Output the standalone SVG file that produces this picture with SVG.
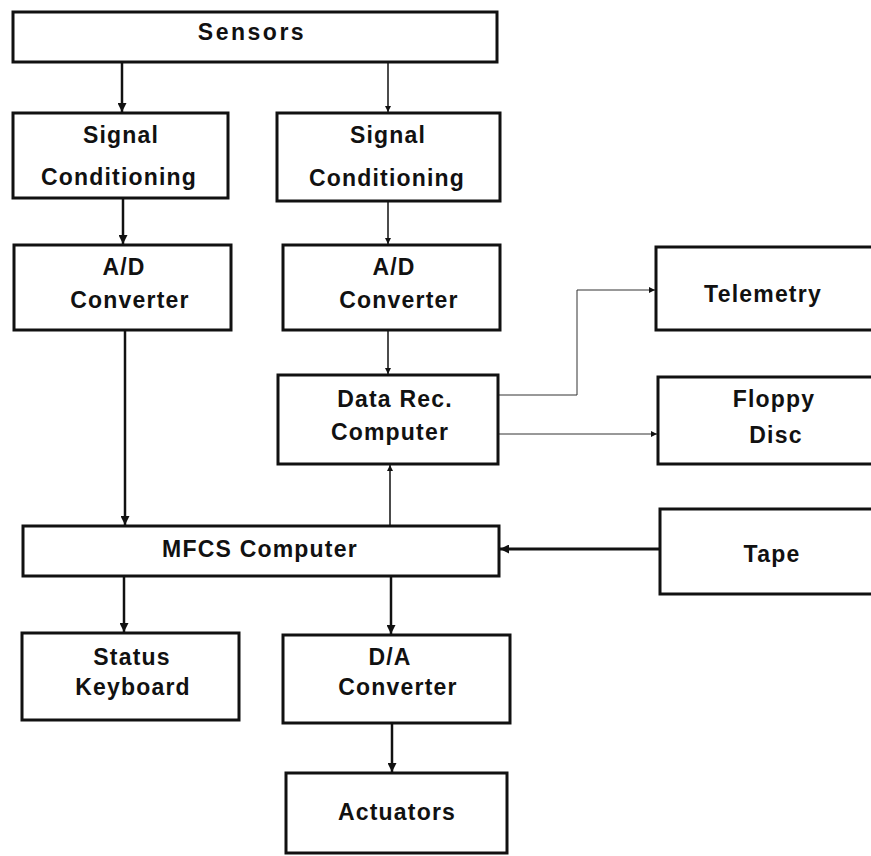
<svg xmlns="http://www.w3.org/2000/svg" width="871" height="856" viewBox="0 0 871 856">
<defs>
<marker id="ah" viewBox="0 0 10 10" refX="10" refY="5" markerWidth="9" markerHeight="9" markerUnits="userSpaceOnUse" orient="auto"><path d="M0,0 L10,5 L0,10 z" fill="#111"/></marker>
<marker id="ahs" viewBox="0 0 10 10" refX="10" refY="5" markerWidth="6" markerHeight="6" markerUnits="userSpaceOnUse" orient="auto"><path d="M0,0 L10,5 L0,10 z" fill="#111"/></marker>
<style>
.box{fill:#fff;stroke:#111;stroke-width:3}
.t{font-family:"Liberation Sans",Arial,sans-serif;font-weight:bold;font-size:23px;letter-spacing:1.2px;fill:#111;text-anchor:middle}
.c{fill:none;stroke:#111}
.k{stroke-width:2.5}
.m{stroke-width:1.5}
.s{stroke-width:1;stroke:#333}
</style>
</defs>
<rect width="871" height="856" fill="#fff"/>
<g id="connectors">
<line class="c k" x1="122" y1="62" x2="122" y2="112" marker-end="url(#ah)"/>
<line class="c m" x1="388" y1="62" x2="388" y2="112" marker-end="url(#ahs)"/>
<line class="c k" x1="123" y1="198" x2="123" y2="244" marker-end="url(#ah)"/>
<line class="c m" x1="388" y1="201" x2="388" y2="244" marker-end="url(#ahs)"/>
<line class="c k" x1="125" y1="330" x2="125" y2="525" marker-end="url(#ah)"/>
<line class="c m" x1="388" y1="330" x2="388" y2="374" marker-end="url(#ahs)"/>
<line class="c m" x1="390" y1="526" x2="390" y2="465" marker-end="url(#ahs)"/>
<polyline class="c s" points="498,395 577,395 577,290 655,290" marker-end="url(#ahs)"/>
<line class="c s" x1="498" y1="434" x2="657" y2="434" marker-end="url(#ahs)"/>
<line class="c" stroke-width="3" x1="660" y1="549" x2="500" y2="549" marker-end="url(#ah)"/>
<line class="c k" x1="124" y1="576" x2="124" y2="632" marker-end="url(#ah)"/>
<line class="c k" x1="391" y1="576" x2="391" y2="634" marker-end="url(#ah)"/>
<line class="c k" x1="392" y1="723" x2="392" y2="772" marker-end="url(#ah)"/>
</g>
<g id="sensors"><rect class="box" x="13" y="12" width="484" height="50"/><text class="t" x="252" y="40" style="letter-spacing:2.5px">Sensors</text></g>
<g id="sc1"><rect class="box" x="13" y="113" width="215" height="85"/><text class="t" x="121" y="143">Signal</text><text class="t" x="119" y="185">Conditioning</text></g>
<g id="sc2"><rect class="box" x="277" y="113" width="223" height="88"/><text class="t" x="388" y="143">Signal</text><text class="t" x="387" y="186">Conditioning</text></g>
<g id="ad1"><rect class="box" x="14" y="245" width="217" height="85"/><text class="t" x="124" y="275">A/D</text><text class="t" x="130" y="308">Converter</text></g>
<g id="ad2"><rect class="box" x="283" y="245" width="217" height="85"/><text class="t" x="394" y="275">A/D</text><text class="t" x="399" y="308">Converter</text></g>
<g id="datarec"><rect class="box" x="278" y="375" width="220" height="89"/><text class="t" x="395" y="407">Data Rec.</text><text class="t" x="390" y="440">Computer</text></g>
<g id="telemetry"><rect class="box" x="656" y="247" width="220" height="83"/><text class="t" x="763" y="302">Telemetry</text></g>
<g id="floppy"><rect class="box" x="658" y="377" width="220" height="87"/><text class="t" x="774" y="407">Floppy</text><text class="t" x="776" y="443">Disc</text></g>
<g id="mfcs"><rect class="box" x="23" y="526" width="476" height="50"/><text class="t" x="260" y="557">MFCS Computer</text></g>
<g id="tape"><rect class="box" x="660" y="509" width="220" height="85"/><text class="t" x="772" y="562">Tape</text></g>
<g id="status"><rect class="box" x="22" y="633" width="217" height="87"/><text class="t" x="132" y="665">Status</text><text class="t" x="133" y="695">Keyboard</text></g>
<g id="da"><rect class="box" x="283" y="635" width="227" height="88"/><text class="t" x="390" y="665">D/A</text><text class="t" x="398" y="695">Converter</text></g>
<g id="actuators"><rect class="box" x="286" y="773" width="221" height="80"/><text class="t" x="397" y="820">Actuators</text></g>
</svg>
